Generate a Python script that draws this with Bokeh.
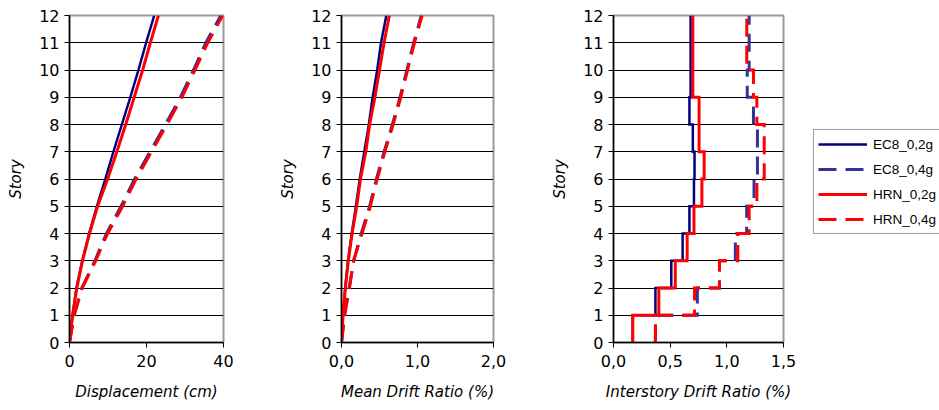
from bokeh.plotting import figure
from bokeh.layouts import row
from bokeh.models import Range1d, FixedTicker, CustomJSTickFormatter, Legend, LegendItem
from bokeh.embed import file_html
from bokeh.resources import INLINE

stories = list(range(13))
series_names = ["EC8_0,2g", "EC8_0,4g", "HRN_0,2g", "HRN_0,4g"]

# Displacement (cm) at each story level 0..12
disp_ec8_02 = [0, 0.8, 1.8, 3.3, 5.1, 7.1, 9.3, 11.4, 13.6, 15.8, 17.9, 19.9, 22.0]
disp_ec8_04 = [0, 1.2, 3.2, 6.6, 9.6, 13.4, 16.9, 20.9, 24.9, 28.8, 32.2, 35.4, 39.3]
disp_hrn_02 = [0, 0.8, 1.9, 3.4, 5.2, 7.3, 9.9, 12.3, 14.6, 16.8, 19.0, 21.0, 23.1]
disp_hrn_04 = [0, 1.2, 3.3, 6.8, 9.9, 13.8, 17.3, 21.3, 25.3, 29.2, 32.6, 35.9, 39.8]

# Mean drift ratio (%) at each story level 0..12
mdr_ec8_02 = [0, 0.02, 0.05, 0.085, 0.135, 0.19, 0.24, 0.30, 0.36, 0.41, 0.47, 0.52, 0.59]
mdr_ec8_04 = [0, 0.04, 0.10, 0.16, 0.26, 0.37, 0.46, 0.56, 0.67, 0.77, 0.86, 0.95, 1.05]
mdr_hrn_02 = [0, 0.02, 0.05, 0.09, 0.14, 0.20, 0.25, 0.32, 0.37, 0.44, 0.50, 0.56, 0.63]
mdr_hrn_04 = [0, 0.04, 0.105, 0.16, 0.27, 0.38, 0.47, 0.57, 0.68, 0.78, 0.87, 0.96, 1.06]

# Interstory drift ratio (%) for stories 1..12 (interval below each level)
idr_ec8_02 = [0.17, 0.37, 0.51, 0.61, 0.67, 0.71, 0.715, 0.70, 0.67, 0.68, 0.68, 0.68]
idr_ec8_04 = [0.37, 0.74, 0.935, 1.075, 1.175, 1.24, 1.27, 1.27, 1.235, 1.18, 1.197, 1.197]
idr_hrn_02 = [0.17, 0.40, 0.545, 0.65, 0.71, 0.78, 0.80, 0.755, 0.755, 0.70, 0.70, 0.70]
idr_hrn_04 = [0.37, 0.715, 0.935, 1.097, 1.197, 1.265, 1.33, 1.33, 1.265, 1.235, 1.176, 1.176]

x1_ticks = [0, 20, 40]
x2_ticks = [0, 1, 2]
x3_ticks = [0, 0.5, 1.0, 1.5]

styles = [
    dict(color="#000080", line_width=2.5, line_dash="solid"),
    dict(color="#333399", line_width=3, line_dash="18 9"),
    dict(color="#FF0000", line_width=3, line_dash="solid"),
    dict(color="#FF0000", line_width=3, line_dash="18 9"),
]

TICK_FONT = "DejaVu Sans"


def make_fig(width, left, right, xmax, xticks, xlabel, comma):
    p = figure(width=width, height=410, output_backend="svg", toolbar_location=None,
               x_range=Range1d(0, xmax), y_range=Range1d(0, 12),
               min_border_left=left, min_border_right=right,
               min_border_top=15, min_border_bottom=68)
    p.background_fill_color = "white"
    p.border_fill_color = "white"
    p.outline_line_color = "#9a9a9a"
    p.outline_line_width = 2
    p.xgrid.visible = False
    p.ygrid.grid_line_color = "#000000"
    p.ygrid.grid_line_width = 1
    p.yaxis.ticker = FixedTicker(ticks=stories)
    p.xaxis.ticker = FixedTicker(ticks=xticks)
    if comma:
        p.xaxis.formatter = CustomJSTickFormatter(code="return tick.toFixed(1).replace('.', ',');")
    for ax in (p.xaxis, p.yaxis):
        ax.axis_line_color = "#000000"
        ax.axis_line_width = 1.5
        ax.major_tick_line_color = "#000000"
        ax.major_tick_out = 5
        ax.major_tick_in = 0
        ax.minor_tick_line_color = None
        ax.major_label_text_font = TICK_FONT
        ax.major_label_text_font_size = "16px"
        ax.major_label_text_color = "#000000"
        ax.axis_label_text_font = TICK_FONT
        ax.axis_label_text_font_size = "15px"
        ax.axis_label_text_font_style = "italic"
        ax.axis_label_text_color = "#000000"
    p.xaxis.axis_label = xlabel
    p.yaxis.axis_label = "Story"
    p.xaxis.major_label_standoff = 7
    p.xaxis.axis_label_standoff = 13
    p.yaxis.major_label_standoff = 5
    p.yaxis.axis_label_standoff = 11
    return p


p1 = make_fig(262, 69, 39, 40, x1_ticks, "Displacement (cm)", False)
for xs, st in zip([disp_ec8_02, disp_ec8_04, disp_hrn_02, disp_hrn_04], styles):
    p1.line(xs, stories, line_color=st["color"], line_width=st["line_width"], line_dash=st["line_dash"])

p2 = make_fig(286, 79, 55, 2, x2_ticks, "Mean Drift Ratio (%)", True)
for xs, st in zip([mdr_ec8_02, mdr_ec8_04, mdr_hrn_02, mdr_hrn_04], styles):
    p2.line(xs, stories, line_color=st["color"], line_width=st["line_width"], line_dash=st["line_dash"])


def step_path(vals):
    xs, ys = [], []
    for i, v in enumerate(vals):
        xs += [v, v]
        ys += [stories[i], stories[i + 1]]
    return xs, ys


idr_series = [idr_ec8_02, idr_ec8_04, idr_hrn_02, idr_hrn_04]

p3 = make_fig(255, 65, 20, 1.5, x3_ticks, "Interstory Drift Ratio (%)", True)
for vals, st in zip(idr_series, styles):
    xs, ys = step_path(vals)
    p3.line(xs, ys, line_color=st["color"], line_width=st["line_width"],
            line_dash=st["line_dash"], line_join="miter")

# Legend panel: a blank figure holding hidden copies of the series for the key
p4 = figure(width=136, height=410, output_backend="svg", toolbar_location=None,
            x_axis_type=None, y_axis_type=None,
            x_range=Range1d(0, 1.5), y_range=Range1d(0, 12),
            min_border_left=0, min_border_right=0, min_border_top=0, min_border_bottom=0)
p4.outline_line_color = None
p4.background_fill_color = "white"
p4.border_fill_color = "white"
p4.xgrid.visible = False
p4.ygrid.visible = False
key_renderers = []
for vals, st in zip(idr_series, styles):
    xs, ys = step_path(vals)
    r = p4.line(xs, ys, line_color=st["color"], line_width=st["line_width"],
                line_dash=st["line_dash"], visible=False)
    key_renderers.append(r)

legend = Legend(items=[LegendItem(label=n, renderers=[r]) for n, r in zip(series_names, key_renderers)],
                location=(10, 108))
legend.label_text_font = "Liberation Sans"
legend.label_text_font_size = "13.5px"
legend.label_text_color = "#000000"
legend.glyph_width = 49
legend.glyph_height = 20
legend.label_height = 20
legend.spacing = 5
legend.padding = 4
legend.label_standoff = 6
legend.margin = 0
legend.border_line_color = "#404040"
legend.border_line_width = 1
legend.background_fill_color = "white"
legend.background_fill_alpha = 1
legend.inactive_fill_alpha = 0
p4.add_layout(legend)

layout = row(p1, p2, p3, p4, spacing=0)
open("out.html", "w").write(file_html(layout, INLINE))
